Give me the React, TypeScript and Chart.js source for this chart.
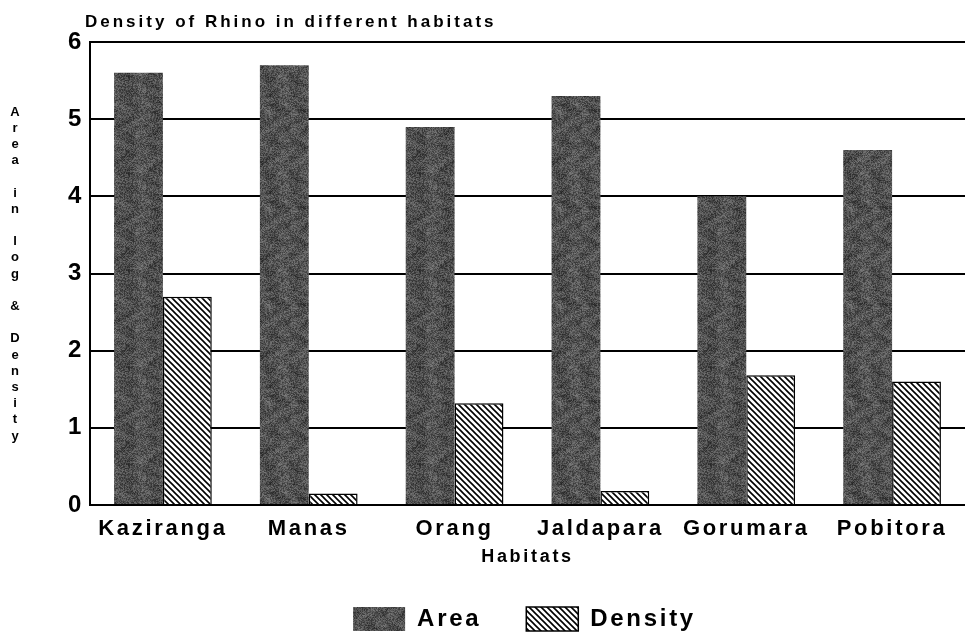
import React, { useEffect, useRef } from "react";
import { Chart, registerables } from "chart.js";

Chart.register(...registerables);

const categories = ["Kaziranga", "Manas", "Orang", "Jaldapara", "Gorumara", "Pobitora"];
const areaValues = [5.6, 5.7, 4.9, 5.3, 4.0, 4.6];
const densityValues = [2.7, 0.15, 1.32, 0.18, 1.68, 1.6];
const seriesNames = ["Area", "Density"];
const chartTitle = "Density of Rhino in different habitats";
const yAxisTitle = "Area in log & Density";
const xAxisTitle = "Habitats";
const yMin = 0;
const yMax = 6;
const yStep = 1;

const FONT = "'Liberation Sans', Arial, sans-serif";
const LETTER_SPACING = "2.7px";

function makeNoisePattern(ctx: CanvasRenderingContext2D) {
  const c = document.createElement("canvas");
  const s = 97;
  c.width = s;
  c.height = s;
  const g = c.getContext("2d")!;
  g.fillStyle = "#4a4a4a";
  g.fillRect(0, 0, s, s);
  for (let y = 0; y < s; y += 1) {
    for (let x = 0; x < s; x += 1) {
      const v = Math.sin(x * 12.9898 + y * 78.233) * 43758.5453;
      const f = v - Math.floor(v);
      const big = Math.sin(x * 0.21 + Math.cos(y * 0.17) * 2) * Math.cos(y * 0.19 + x * 0.05);
      const gray = Math.round(50 + f * 60 + big * 14);
      g.fillStyle = `rgb(${gray},${gray},${gray})`;
      g.fillRect(x, y, 1, 1);
    }
  }
  return ctx.createPattern(c, "repeat")!;
}

function makeHatchPattern(ctx: CanvasRenderingContext2D) {
  const c = document.createElement("canvas");
  const s = 6;
  c.width = s;
  c.height = s;
  const g = c.getContext("2d")!;
  g.fillStyle = "#fff";
  g.fillRect(0, 0, s, s);
  g.strokeStyle = "#000";
  g.lineWidth = 1.6;
  g.beginPath();
  g.moveTo(-1, -1);
  g.lineTo(s + 1, s + 1);
  g.moveTo(-1, s - 1);
  g.lineTo(1, s + 1);
  g.moveTo(s - 1, -1);
  g.lineTo(s + 1, 1);
  g.stroke();
  return ctx.createPattern(c, "repeat")!;
}

const LEGEND_SHRINK = 8;
const LEGEND_SHIFT_X = 28;
const LEGEND_SHIFT_Y = -6;

const layoutPlugin = {
  id: "layoutTweaks",
  beforeUpdate(chart: any) {
    chart.ctx.letterSpacing = LETTER_SPACING;
  },
  beforeLayout(chart: any) {
    chart.ctx.letterSpacing = LETTER_SPACING;
    const lg = chart.legend;
    if (lg && !lg.__patched) {
      const orig = lg.fit;
      lg.fit = function (this: any) {
        orig.call(this);
        this.height -= LEGEND_SHRINK;
      };
      lg.__patched = true;
    }
  },
  afterLayout(chart: any) {
    const lg = chart.legend;
    if (lg) {
      lg.left += LEGEND_SHIFT_X;
      lg.right += LEGEND_SHIFT_X;
      lg.top += LEGEND_SHIFT_Y;
      lg.bottom += LEGEND_SHIFT_Y + LEGEND_SHRINK;
    }
  },
  beforeDraw(chart: any) {
    chart.ctx.letterSpacing = LETTER_SPACING;
  },
};

const textPlugin = {
  id: "extraText",
  afterDraw(chart: any) {
    const ctx = chart.ctx as CanvasRenderingContext2D;
    const area = chart.chartArea;
    ctx.save();
    ctx.fillStyle = "#000";
    ctx.font = `bold 17px ${FONT}`;
    ctx.letterSpacing = "3px";
    ctx.textAlign = "left";
    ctx.textBaseline = "alphabetic";
    ctx.fillText(chartTitle, area.left - 5, 27);
    ctx.font = `bold 13px ${FONT}`;
    ctx.textAlign = "center";
    ctx.textBaseline = "middle";
    ctx.letterSpacing = "0px";
    const chars = yAxisTitle.split("");
    const startY = 112;
    const step = 16.2;
    chars.forEach((ch, i) => {
      if (ch !== " ") ctx.fillText(ch, 15, startY + i * step);
    });
    ctx.restore();
  },
};

export default function App() {
  const ref = useRef<HTMLCanvasElement | null>(null);
  useEffect(() => {
    const canvas = ref.current!;
    const ctx = canvas.getContext("2d")!;
    const noise = makeNoisePattern(ctx);
    const hatch = makeHatchPattern(ctx);
    const chart = new Chart(canvas, {
      type: "bar",
      data: {
        labels: categories,
        datasets: [
          {
            label: seriesNames[0],
            data: areaValues,
            backgroundColor: noise,
            borderWidth: 0,
            categoryPercentage: 0.67,
            barPercentage: 1.0,
          },
          {
            label: seriesNames[1],
            data: densityValues,
            backgroundColor: hatch,
            borderColor: "#000",
            borderWidth: 1.5,
            categoryPercentage: 0.67,
            barPercentage: 1.0,
          },
        ],
      },
      options: {
        animation: false,
        responsive: true,
        maintainAspectRatio: false,
        layout: { padding: { top: 42, left: 28, right: 0, bottom: 0 } },
        plugins: {
          title: { display: false },
          tooltip: { enabled: false },
          legend: {
            position: "bottom",
            labels: {
              boxWidth: 52,
              boxHeight: 24,
              padding: 45,
              color: "#000",
              font: { family: FONT, size: 24, weight: "bold" },
            },
          },
        },
        scales: {
          x: {
            grid: { display: false },
            border: { display: false },
            ticks: {
              color: "#000",
              padding: 3,
              font: { family: FONT, size: 22, weight: "bold" },
            },
            title: {
              display: true,
              text: xAxisTitle,
              color: "#000",
              padding: { top: 1, bottom: 0 },
              font: { family: FONT, size: 18, weight: "bold" },
            },
          },
          y: {
            min: yMin,
            max: yMax,
            ticks: {
              stepSize: yStep,
              color: "#000",
              padding: 6,
              font: { family: FONT, size: 24, weight: "bold" },
            },
            grid: { color: "#000", lineWidth: 2, drawTicks: false },
            border: { color: "#000", width: 2 },
            afterFit(scale: any) {
              scale.width = 62;
            },
          },
        },
      },
      plugins: [layoutPlugin, textPlugin],
    });
    return () => chart.destroy();
  }, []);
  return (
    <div style={{ position: "fixed", left: 0, top: 0, width: 965, height: 639, background: "#fff" }}>
      <canvas ref={ref} />
    </div>
  );
}
